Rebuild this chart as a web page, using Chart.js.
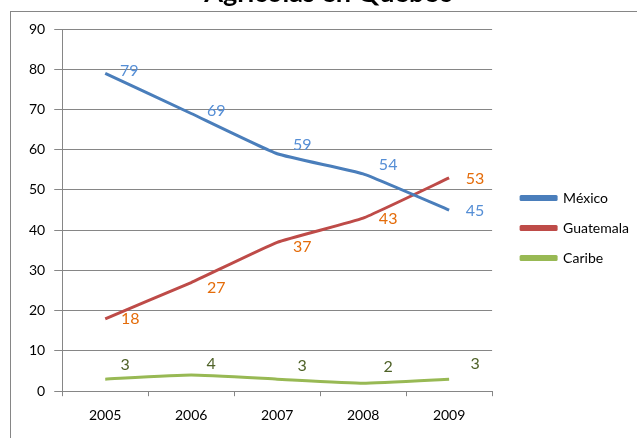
<!DOCTYPE html>
<html>
<head>
<meta charset="utf-8">
<script src="https://cdn.jsdelivr.net/npm/chart.js@4"></script>
<style>
  html, body { margin: 0; padding: 0; background: #fff; }
  #wrap { width: 637px; height: 438px; }
</style>
</head>
<body>
<div id="wrap"><canvas id="exportChart" width="637" height="438"></canvas></div>
<script>
const years = ['2005', '2006', '2007', '2008', '2009'];
const mexico = [79, 69, 59, 54, 45];
const guatemala = [18, 27, 37, 43, 53];
const caribe = [3, 4, 3, 2, 3];
const yTicks = [0, 10, 20, 30, 40, 50, 60, 70, 80, 90];

const titleText = 'Agrícolas en Québec';

// where each value label sits relative to its point
const labelStyle = [
  { color: '#558ED5', offsets: [[24, -2], [25, -3], [25, -9], [25, -9], [26, 1]] },
  { color: '#E46C0A', offsets: [[25, 0], [25, 5], [25, 5], [25, 1], [26, 1]] },
  { color: '#4F6228', offsets: [[20, -14], [20, -11], [25, -13], [25, -16], [26, -15]] }
];

const framePlugin = {
  id: 'frame',
  beforeDraw(chart) {
    const { ctx } = chart;
    ctx.save();
    ctx.strokeStyle = '#868686';
    ctx.lineWidth = 1;
    ctx.strokeRect(10.5, 11.5, 700, 500);
    ctx.fillStyle = '#000';
    ctx.font = 'bold 27px Lato, sans-serif';
    ctx.textAlign = 'center';
    ctx.textBaseline = 'alphabetic';
    ctx.fillText(titleText, 328, 2);
    ctx.restore();
  }
};

// nudge the legend a bit further from the plot
const legendShift = {
  id: 'legendShift',
  afterLayout(chart) {
    const lg = chart.legend;
    lg.left += 13; lg.right += 13;
    lg.top -= 4; lg.bottom -= 4;
  }
};

const valueLabels = {
  id: 'valueLabels',
  afterDatasetsDraw(chart) {
    const { ctx } = chart;
    ctx.save();
    ctx.font = '16px Lato, sans-serif';
    ctx.textAlign = 'center';
    ctx.textBaseline = 'middle';
    chart.data.datasets.forEach((ds, di) => {
      const meta = chart.getDatasetMeta(di);
      const style = labelStyle[di];
      ctx.fillStyle = style.color;
      meta.data.forEach((pt, i) => {
        const [dx, dy] = style.offsets[i];
        ctx.fillText(String(ds.data[i]), pt.x + dx, pt.y + dy);
      });
    });
    ctx.restore();
  }
};

function series(label, data, color) {
  return {
    label: label,
    data: data,
    borderColor: color,
    backgroundColor: color,
    borderWidth: 3,
    tension: 0.12,
    pointRadius: 0,
    pointHoverRadius: 0,
    borderJoinStyle: 'round',
    borderCapStyle: 'butt'
  };
}

new Chart(document.getElementById('exportChart').getContext('2d'), {
  type: 'line',
  data: {
    labels: years,
    datasets: [
      series('México', mexico, '#4A7EBB'),
      series('Guatemala', guatemala, '#BE4B48'),
      series('Caribe', caribe, '#98B954')
    ]
  },
  options: {
    responsive: false,
    animation: false,
    layout: { padding: { top: 29, left: 20, right: 11, bottom: 3 } },
    plugins: {
      legend: {
        position: 'right',
        labels: {
          boxWidth: 35,
          boxHeight: 3,
          padding: 16,
          color: '#000',
          font: { family: 'Lato, sans-serif', size: 14 }
        }
      },
      tooltip: { enabled: false }
    },
    scales: {
      x: {
        offset: true,
        grid: {
          offset: true,
          drawOnChartArea: false,
          color: '#868686',
          tickLength: 5
        },
        border: { color: '#868686' },
        ticks: {
          color: '#000',
          padding: 11,
          font: { family: 'Lato, sans-serif', size: 14 }
        }
      },
      y: {
        min: 0,
        max: 90,
        afterBuildTicks: (axis) => { axis.ticks = yTicks.map(v => ({ value: v })); },
        grid: { color: '#868686', tickLength: 8 },
        border: { color: '#868686' },
        ticks: {
          color: '#000',
          padding: 9,
          font: { family: 'Lato, sans-serif', size: 14 }
        }
      }
    }
  },
  plugins: [framePlugin, legendShift, valueLabels]
});
</script>
</body>
</html>
